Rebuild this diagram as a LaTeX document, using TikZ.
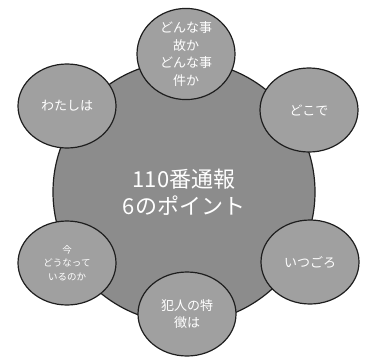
\documentclass[tikz,border=0pt]{standalone}
\usepackage{fontspec}
\setmainfont{Noto Sans CJK JP}
\usetikzlibrary{shapes.geometric}
\definecolor{bigfill}{RGB}{140,140,140}
\definecolor{smallfill}{RGB}{160,160,160}
\definecolor{edgecol}{RGB}{30,30,30}
\tikzset{
  hub/.style={circle, draw=edgecol, line width=1.2pt, fill=bigfill, minimum size=262pt, inner sep=0pt,
    text=white, align=center, font=\fontsize{22}{27}\selectfont},
  point/.style={ellipse, draw=edgecol, line width=1.2pt, fill=smallfill, minimum width=98pt, minimum height=84pt,
    inner sep=0pt, text=white, align=center, font=\fontsize{13}{17.5}\selectfont},
  smalltext/.style={font=\fontsize{9.5}{13.5}\selectfont}
}
\begin{document}
\begin{tikzpicture}[x=1pt,y=-1pt]
\useasboundingbox (0,0) rectangle (366,356);
\fill[white] (0,0) rectangle (366,356);
\node[hub] (hub) at (184,192) {110番通報\\6のポイント};
\node[point] (what) at (186,54) {どんな事\\故か\\どんな事\\件か};
\node[point] (where) at (309,110) {どこで};
\node[point] (when) at (310,262) {いつごろ};
\node[point] (who) at (187,314) {犯人の特\\徴は};
\node[point, smalltext] (now) at (67,263) {今\\どうなって\\いるのか};
\node[point] (me) at (67,106) {わたしは};
\end{tikzpicture}
\end{document}
